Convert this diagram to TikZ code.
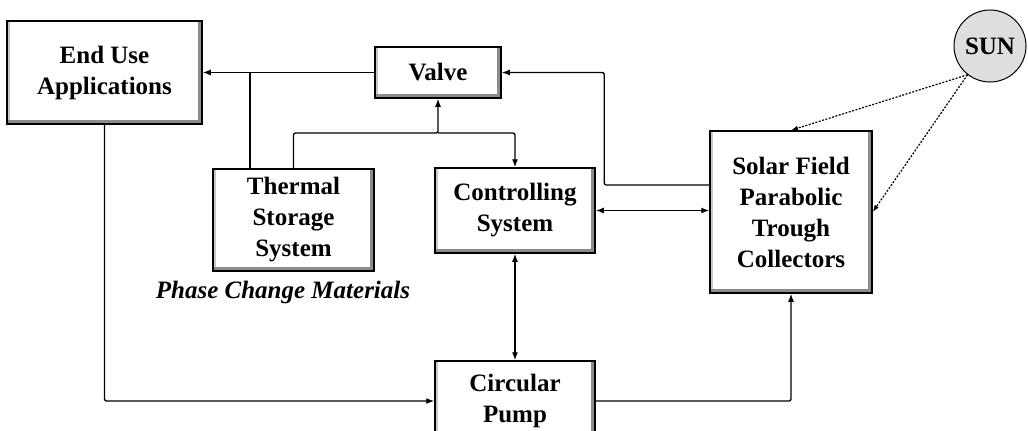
\documentclass[tikz,border=0pt]{standalone}
\usepackage{fontspec}
\setmainfont{Liberation Serif}
\usetikzlibrary{arrows.meta}
\definecolor{bevelDark}{RGB}{140,140,140}
\definecolor{bevelLight}{RGB}{200,200,200}
\definecolor{sunGray}{RGB}{222,222,222}

\tikzset{
  block/.style={draw, line width=1.5pt, fill=white, align=center, inner sep=0pt,
    font=\fontsize{25}{31}\selectfont\bfseries,
    path picture={
      \fill[bevelLight] (path picture bounding box.south west)
        rectangle ([xshift=3pt]path picture bounding box.north west);
      \fill[bevelDark] (path picture bounding box.south west)
        rectangle ([yshift=4pt]path picture bounding box.south east);
      \fill[bevelDark] (path picture bounding box.south east)
        rectangle ([xshift=-4pt]path picture bounding box.north east);
    }},
  flow/.style={line width=1.3pt, rounded corners=2pt, -{Latex[length=8pt,width=6pt]}},
  flowboth/.style={flow, {Latex[length=8pt,width=6pt]}-{Latex[length=8pt,width=6pt]}},
  ray/.style={line width=1.2pt, dash pattern=on 2pt off 1.5pt, -{Latex[length=7pt,width=5pt]}},
}

\begin{document}
\begin{tikzpicture}[x=1pt,y=-1pt]
  \useasboundingbox (0,0) rectangle (1028,431);
  % blocks
  \node[block, minimum width=195pt, minimum height=103pt] (enduse) at (104.5,72.5) {End Use\\Applications};
  \node[block, minimum width=126pt, minimum height=51pt] (valve) at (438,72.5) {Valve};
  \node[block, minimum width=161pt, minimum height=102pt] (storage) at (293.5,220) {Thermal\\Storage\\System};
  \node[block, minimum width=160pt, minimum height=85pt] (control) at (515,210.5) {Controlling\\System};
  \node[block, minimum width=162pt, minimum height=162pt] (solar) at (791,212) {Solar Field\\Parabolic\\Trough\\Collectors};
  \node[block, minimum width=160pt, minimum height=80pt] (pump) at (515,401) {Circular\\Pump};
  \node[circle, draw, line width=1pt, fill=sunGray, minimum size=72pt, inner sep=0pt,
    font=\fontsize{25}{31}\selectfont\bfseries] (sun) at (990,46) {SUN};
  \node[font=\fontsize{25}{31}\selectfont\bfseries\itshape] (pcm) at (283,292) {Phase Change Materials};

  % connectors
  \draw[flow] (valve.west) -- (enduse.east);
  \draw[line width=1.3pt] ([xshift=-43.5pt]storage.north) -- ([xshift=-43.5pt]storage.north |- valve.west);
  \coordinate (split) at (438,133);
  \draw[flow] (storage.north) |- (split) -- (valve.south);
  \draw[flow] (split) -| (control.north);
  \draw[flow] ([yshift=27pt]solar.west) -- ++(-105,0) |- (valve.east);
  \draw[flowboth] (control.east) -- (solar.west |- control.east);
  \draw[flowboth] (control.south) -- (pump.north);
  \draw[flow] (enduse.south) |- (pump.west);
  \draw[flow] (pump.east) -| (solar.south);
  \draw[ray] (sun.-128) -- (solar.north);
  \draw[ray] (sun.-128) -- (solar.east);
\end{tikzpicture}
\end{document}
